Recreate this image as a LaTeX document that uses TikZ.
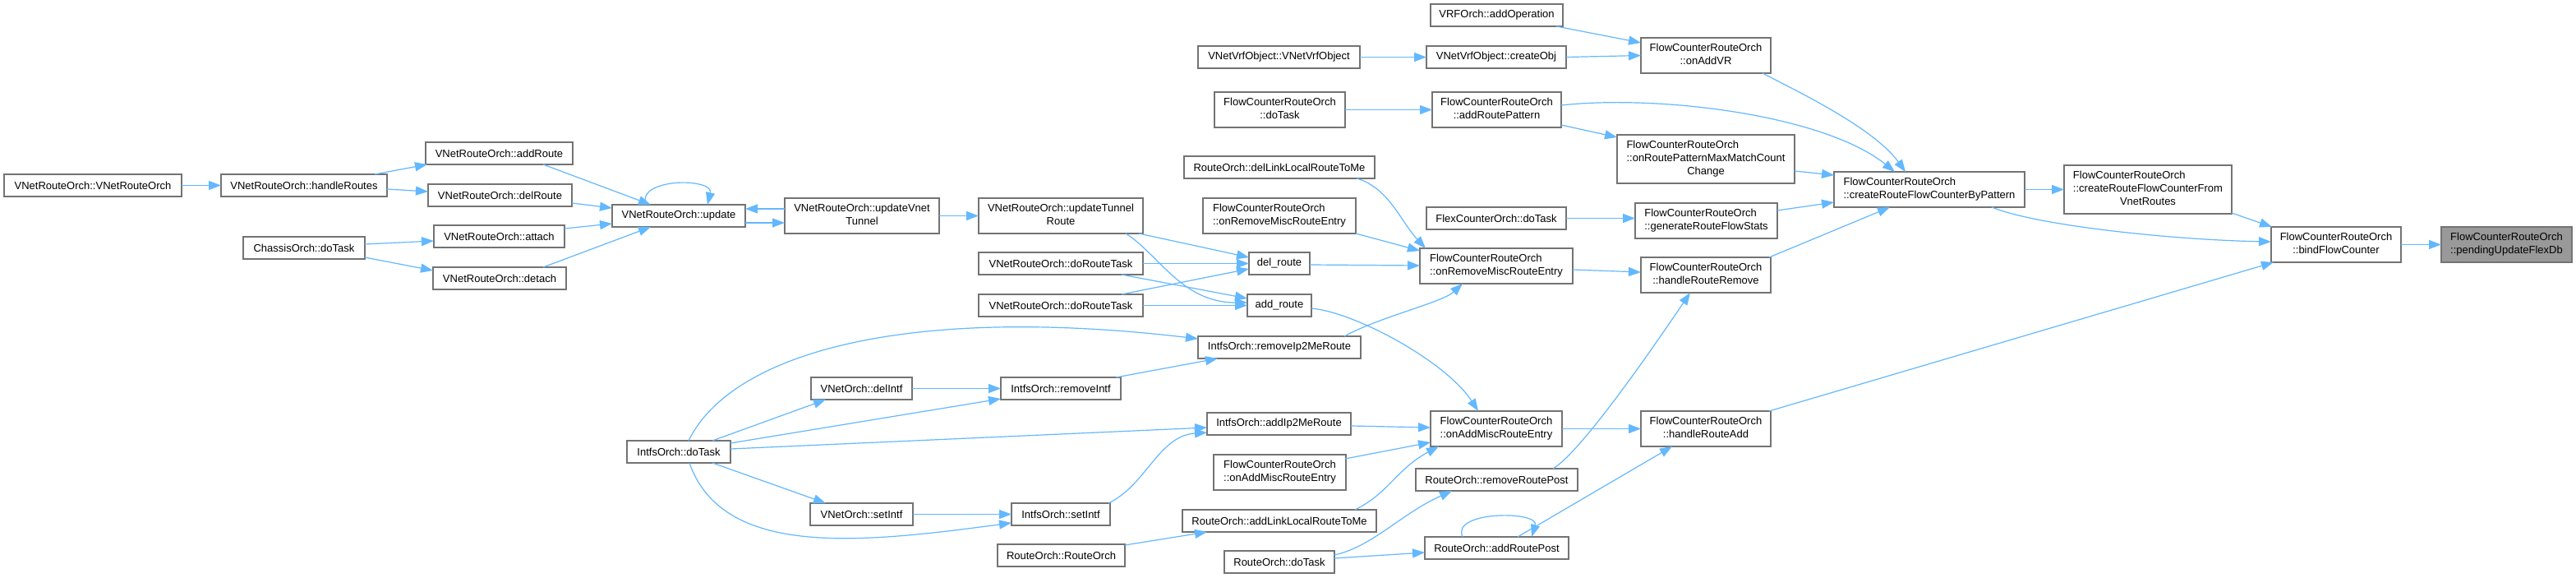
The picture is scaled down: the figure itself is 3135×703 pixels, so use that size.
\documentclass[tikz,border=0pt]{standalone}
\usepackage{fontspec}
\setmainfont{Liberation Sans}
\usetikzlibrary{arrows.meta}
\definecolor{edgeblue}{HTML}{63B8FF}
\definecolor{boxgray}{HTML}{737373}
\definecolor{rootgray}{HTML}{999999}
\newcommand\twol[2]{\begin{tabular}{@{}l@{}}#1\\\multicolumn{1}{@{}c@{}}{#2}\end{tabular}}
\newcommand\threel[3]{\begin{tabular}{@{}l@{}}#1\\#2\\\multicolumn{1}{@{}c@{}}{#3}\end{tabular}}
\newcommand\nd[7][]{\node[box,#1,minimum width=#5pt,minimum height=#6pt] (#2) at ({#3+#5/2},{#4+#6/2}) {#7};}
\tikzset{
  box/.style={draw=boxgray, fill=white, line width=1.1pt, inner sep=0pt, outer sep=0pt,
    font=\fontsize{13}{16}\selectfont, text=black, align=center},
  rootbox/.style={fill=rootgray},
  edge/.style={draw=edgeblue, line width=1.2pt, -{Triangle[length=15pt,width=11pt]}}
}
\begin{document}
\begin{tikzpicture}[x=1pt,y=-1pt]
\fill[white] (0,0) rectangle (3135,703);
\useasboundingbox (0,0) rectangle (3135,703);
% nodes: name x1 y1 w h
\nd{vnro}{5}{212}{216}{27}{VNetRouteOrch::VNetRouteOrch}
\nd{hr}{269}{212}{202}{27}{VNetRouteOrch::handleRoutes}
\nd{addR}{518}{173}{179}{27}{VNetRouteOrch::addRoute}
\nd{delR}{521}{224}{175}{27}{VNetRouteOrch::delRoute}
\nd{attach}{528}{274}{159}{27}{VNetRouteOrch::attach}
\nd{chassis}{296}{288}{148}{27}{ChassisOrch::doTask}
\nd{detach}{527}{325}{162}{27}{VNetRouteOrch::detach}
\nd{upd}{745}{249}{162}{27}{VNetRouteOrch::update}
\nd{uvt}{955}{241}{188}{43}{\twol{VNetRouteOrch::updateVnet}{Tunnel}}
\nd{utr}{1191}{241}{200}{43}{\twol{VNetRouteOrch::updateTunnel}{Route}}
\nd{dll}{1441}{190}{232}{27}{RouteOrch::delLinkLocalRouteToMe}
\nd{fcrL}{1464}{241}{186}{43}{\twol{FlowCounterRouteOrch}{::onRemoveMiscRouteEntry}}
\nd{delrt}{1520}{307}{74}{27}{del\_route}
\nd{drt1}{1191}{307}{200}{27}{VNetRouteOrch::doRouteTask}
\nd{drt2}{1191}{358}{200}{27}{VNetRouteOrch::doRouteTask}
\nd{addrt}{1518}{358}{78}{27}{add\_route}
\nd{rmIp}{1458}{409}{198}{27}{IntfsOrch::removeIp2MeRoute}
\nd{vDel}{987}{459}{123}{27}{VNetOrch::delIntf}
\nd{rmIntf}{1218}{459}{146}{27}{IntfsOrch::removeIntf}
\nd{addIp}{1469}{502}{175}{27}{IntfsOrch::addIp2MeRoute}
\nd{iDo}{763}{536}{126}{27}{IntfsOrch::doTask}
\nd{vSet}{986}{612}{125}{27}{VNetOrch::setIntf}
\nd{iSet}{1231}{612}{120}{27}{IntfsOrch::setIntf}
\nd{fcaL}{1477}{553}{161}{43}{\twol{FlowCounterRouteOrch}{::onAddMiscRouteEntry}}
\nd{addLL}{1439}{620}{236}{27}{RouteOrch::addLinkLocalRouteToMe}
\nd{roCtor}{1214}{662}{155}{27}{RouteOrch::RouteOrch}
\nd{roDo}{1490}{670}{134}{27}{RouteOrch::doTask}
\nd{vrf}{1741}{5}{161}{27}{VRFOrch::addOperation}
\nd{vvCtor}{1458}{56}{197}{27}{VNetVrfObject::VNetVrfObject}
\nd{cObj}{1736}{56}{170}{27}{VNetVrfObject::createObj}
\nd{onVR}{1997}{46}{158}{43}{\twol{FlowCounterRouteOrch}{::onAddVR}}
\nd{fcDo}{1478}{112}{159}{43}{\twol{FlowCounterRouteOrch}{::doTask}}
\nd{arp}{1743}{112}{157}{43}{\twol{FlowCounterRouteOrch}{::addRoutePattern}}
\nd{rpm}{1968}{164}{216}{59}{\threel{FlowCounterRouteOrch}{::onRoutePatternMaxMatchCount}{Change}}
\nd{cbp}{2232}{209}{232}{43}{\twol{FlowCounterRouteOrch}{::createRouteFlowCounterByPattern}}
\nd{flex}{1736}{252}{170}{27}{FlexCounterOrch::doTask}
\nd{gen}{1990}{247}{173}{43}{\twol{FlowCounterRouteOrch}{::generateRouteFlowStats}}
\nd{fcrM}{1728}{302}{186}{43}{\twol{FlowCounterRouteOrch}{::onRemoveMiscRouteEntry}}
\nd{hrr}{1997}{313}{158}{43}{\twol{FlowCounterRouteOrch}{::handleRouteRemove}}
\nd{fcaM}{1741}{500}{160}{43}{\twol{FlowCounterRouteOrch}{::onAddMiscRouteEntry}}
\nd{hra}{1997}{500}{158}{43}{\twol{FlowCounterRouteOrch}{::handleRouteAdd}}
\nd{rrp}{1723}{570}{197}{27}{RouteOrch::removeRoutePost}
\nd{arpost}{1734}{653}{175}{27}{RouteOrch::addRoutePost}
\nd{cfv}{2512}{201}{204}{59}{\threel{FlowCounterRouteOrch}{::createRouteFlowCounterFrom}{VnetRoutes}}
\nd{bind}{2764}{276}{158}{43}{\twol{FlowCounterRouteOrch}{::bindFlowCounter}}
\nd[rootbox]{pend}{2971}{276}{159}{43}{\twol{FlowCounterRouteOrch}{::pendingUpdateFlexDb}}
% edges
\draw[edge] (vnro.east) -- (hr.west);
\draw[edge] ([shift={(187,0)}]hr.north west) -- ([shift={(2,27)}]addR.north west);
\draw[edge] ([shift={(202,18)}]hr.north west) -- ([shift={(0,9)}]delR.north west);
\draw[edge] ([shift={(143,27)}]addR.north west) -- ([shift={(47,0)}]upd.north west);
\draw[edge] ([shift={(175,23)}]delR.north west) -- ([shift={(0,4)}]upd.north west);
\draw[edge] ([shift={(159,4)}]attach.north west) -- ([shift={(0,23)}]upd.north west);
\draw[edge] ([shift={(134,0)}]detach.north west) -- ([shift={(47,27)}]upd.north west);
\draw[edge] ([shift={(148,9)}]chassis.north west) -- ([shift={(0,19)}]attach.north west);
\draw[edge] ([shift={(148,25)}]chassis.north west) -- ([shift={(0,4)}]detach.north west);
\draw[edge] ([shift={(41,0)}]upd.north west) .. controls +(-12,-33) and +(8,-33) .. ([shift={(116,0)}]upd.north west);
\draw[edge] ([shift={(0,13)}]uvt.north west) -- ([shift={(162,5)}]upd.north west);
\draw[edge] ([shift={(162,22)}]upd.north west) -- ([shift={(0,30)}]uvt.north west);
\draw[edge] (uvt.east) -- (utr.west);
\draw[edge] ([shift={(195,43)}]utr.north west) -- ([shift={(0,6)}]delrt.north west);
\draw[edge] ([shift={(179,43)}]utr.north west) .. controls +(40,25) and +(-80,0) .. ([shift={(0,10)}]addrt.north west);
\draw[edge] (drt1.east) -- (delrt.west);
\draw[edge] ([shift={(174,27)}]drt1.north west) -- ([shift={(0,5)}]addrt.north west);
\draw[edge] ([shift={(174,0)}]drt2.north west) -- ([shift={(0,20)}]delrt.north west);
\draw[edge] (drt2.east) -- (addrt.west);
\draw[edge] ([shift={(74,15)}]delrt.north west) -- ([shift={(0,21)}]fcrM.north west);
\draw[edge] ([shift={(78,17)}]addrt.north west) .. controls +(54,5) and +(-39,-60) .. ([shift={(58,0)}]fcaM.north west);
\draw[edge] ([shift={(210,27)}]dll.north west) .. controls +(39,11) and +(-30,-32) .. ([shift={(7,0)}]fcrM.north west);
\draw[edge] ([shift={(186,43)}]fcrL.north west) -- ([shift={(0,3)}]fcrM.north west);
\draw[edge] ([shift={(178,0)}]rmIp.north west) .. controls +(44,-24) and +(-25,23) .. ([shift={(52,43)}]fcrM.north west);
\draw[edge] ([shift={(75,0)}]iDo.north west) .. controls +(52,-106) and +(-358,-42) .. ([shift={(0,3)}]rmIp.north west);
\draw[edge] ([shift={(104,0)}]iDo.north west) -- ([shift={(18,27)}]vDel.north west);
\draw[edge] ([shift={(126,3)}]iDo.north west) -- ([shift={(0,26)}]rmIntf.north west);
\draw[edge] ([shift={(126,10)}]iDo.north west) -- ([shift={(0,18)}]addIp.north west);
\draw[edge] ([shift={(104,27)}]iDo.north west) -- ([shift={(19,0)}]vSet.north west);
\draw[edge] ([shift={(76,27)}]iDo.north west) .. controls +(41,117) and +(-181,24) .. ([shift={(0,24)}]iSet.north west);
\draw[edge] (vDel.east) -- (rmIntf.west);
\draw[edge] ([shift={(140,0)}]rmIntf.north west) -- ([shift={(24,27)}]rmIp.north west);
\draw[edge] (vSet.east) -- (iSet.west);
\draw[edge] ([shift={(118,0)}]iSet.north west) .. controls +(46,-22) and +(-59,4) .. ([shift={(0,24)}]addIp.north west);
\draw[edge] ([shift={(175,16)}]addIp.north west) -- ([shift={(0,20)}]fcaM.north west);
\draw[edge] ([shift={(160,5)}]fcaL.north west) -- ([shift={(0,38)}]fcaM.north west);
\draw[edge] ([shift={(210,0)}]addLL.north west) .. controls +(41,-20) and +(-51,27) .. ([shift={(10,43)}]fcaM.north west);
\draw[edge] ([shift={(155,1)}]roCtor.north west) -- ([shift={(30,27)}]addLL.north west);
\draw[edge] ([shift={(134,5)}]roDo.north west) .. controls +(46,-10) and +(-62,28) .. ([shift={(44,27)}]rrp.north west);
\draw[edge] ([shift={(134,9)}]roDo.north west) -- ([shift={(0,19)}]arpost.north west);
\draw[edge] ([shift={(46,0)}]arpost.north west) .. controls +(-15,-32) and +(10,-32) .. ([shift={(130,0)}]arpost.north west);
\draw[edge] ([shift={(113,0)}]arpost.north west) -- ([shift={(38,43)}]hra.north west);
\draw[edge] ([shift={(167,0)}]rrp.north west) .. controls +(30,-18) and +(-67,99) .. ([shift={(60,43)}]hrr.north west);
\draw[edge] (fcaM.east) -- (hra.west);
\draw[edge] ([shift={(186,26)}]fcrM.north west) -- ([shift={(0,18)}]hrr.north west);
\draw[edge] ([shift={(156,0)}]hrr.north west) -- ([shift={(68,43)}]cbp.north west);
\draw[edge] ([shift={(156,0)}]hra.north west) -- ([shift={(3,43)}]bind.north west);
\draw[edge] ([shift={(153,27)}]vrf.north west) -- ([shift={(0,6)}]onVR.north west);
\draw[edge] (vvCtor.east) -- (cObj.west);
\draw[edge] (cObj.east) -- (onVR.west);
\draw[edge] ([shift={(148,43)}]onVR.north west) .. controls +(40,21) and +(-39,-54) .. ([shift={(87,0)}]cbp.north west);
\draw[edge] (fcDo.east) -- (arp.west);
\draw[edge] ([shift={(157,16)}]arp.north west) .. controls +(120,-13) and +(-86,-69) .. ([shift={(74,0)}]cbp.north west);
\draw[edge] ([shift={(157,40)}]arp.north west) -- ([shift={(0,3)}]rpm.north west);
\draw[edge] ([shift={(216,44)}]rpm.north west) -- ([shift={(0,4)}]cbp.north west);
\draw[edge] (flex.east) -- (flex.east -| gen.west);
\draw[edge] ([shift={(173,9)}]gen.north west) -- ([shift={(0,37)}]cbp.north west);
\draw[edge] (cbp.east) -- (cfv.west);
\draw[edge] ([shift={(192,43)}]cbp.north west) .. controls +(56,23) and +(-114,-2) .. ([shift={(0,18)}]bind.north west);
\draw[edge] ([shift={(204,58)}]cfv.north west) -- ([shift={(1,0)}]bind.north west);
\draw[edge] (bind.east) -- (pend.west);
\end{tikzpicture}
\end{document}
